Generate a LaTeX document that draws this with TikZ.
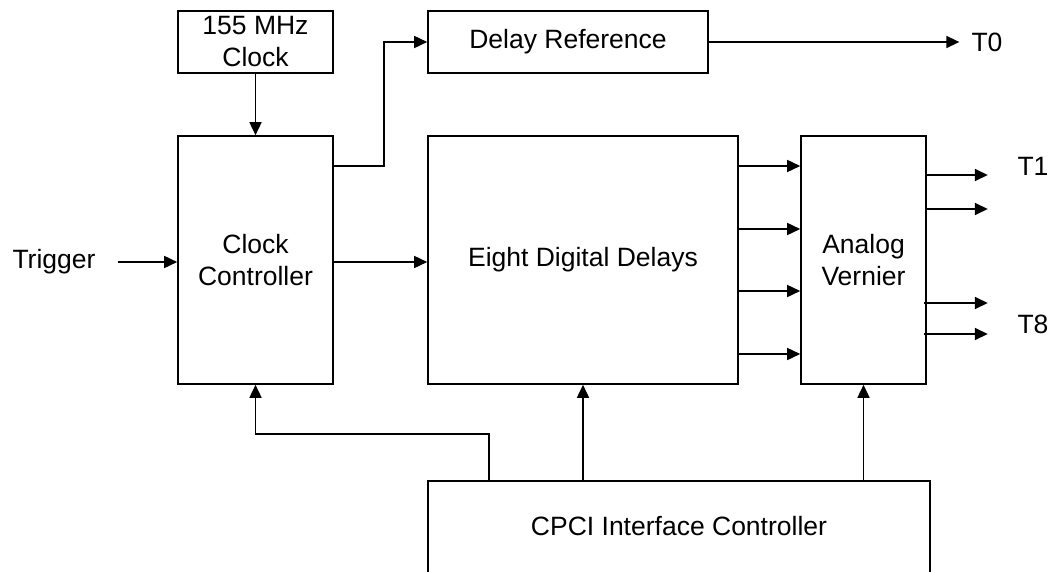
\documentclass[tikz,border=0pt]{standalone}
\usepackage{fontspec}
\setmainfont{Liberation Sans}
\usetikzlibrary{arrows.meta}
\begin{document}
\begin{tikzpicture}[x=1pt,y=-1pt,
  txt/.style={font=\fontsize{26.5}{32}\selectfont},
  box/.style={draw,line width=1.6pt,inner sep=0pt,align=center,txt},
  lbl/.style={inner sep=0pt,txt},
  arr/.style={line width=1.6pt,-{Triangle[length=13pt,width=12pt]}},
  ln/.style={line width=1.6pt}]
\useasboundingbox (0,0) rectangle (1051,572);
% blocks
\node[box,minimum width=155pt,minimum height=62pt] (clk) at (255.5,42) {155 MHz\\Clock};
\node[box,minimum width=155pt,minimum height=248pt] (cc) at (255.5,260) {Clock\\Controller};
\node[box,minimum width=280pt,minimum height=62pt] (dr) at (568,42) {Delay Reference};
\node[box,minimum width=310pt,minimum height=248pt] (edd) at (583,260) {Eight Digital Delays};
\node[box,minimum width=125pt,minimum height=248pt] (av) at (863.5,260) {Analog\\Vernier};
\node[box,minimum width=502pt,minimum height=200pt,anchor=north] (cpci) at (679,480) {};
\node[lbl] (cpcit) at (679,526) {CPCI Interface Controller};
% labels
\node[lbl] (trig) at (54,262) {Trigger};
\node[lbl] (t0) at (987,42) {T0};
\node[lbl] (t1) at (1033,166) {T1};
\node[lbl] (t8) at (1033,324) {T8};
% connectors
\draw[arr] (clk.south) -- (cc.north);
\draw[arr] ([xshift=22pt]trig.east) -- (cc.west |- trig.east);
\draw[arr] ([yshift=-2pt]cc.east) -- ([yshift=-2pt]edd.west);
\draw[arr] ([yshift=-31pt]cc.north east) -- ++(50,0) |- (dr.west);
\draw[arr] (dr.east) -- ([xshift=-12pt]t0.west);
\foreach \d in {94,31,-31,-94}
  \draw[arr] ([yshift=\d pt]edd.east) -- ([yshift=\d pt]av.west);
\draw[arr] ([yshift=85pt]av.east) -- ++(61,0);
\draw[arr] ([yshift=51pt]av.east) -- ++(61,0);
\draw[arr] ([yshift=-43pt,xshift=-3pt]av.east) -- ++(64,0);
\draw[arr] ([yshift=-74pt,xshift=-3pt]av.east) -- ++(64,0);
\draw[arr] ([xshift=62pt]cpci.north west) -- ++(0,-46) -| (cc.south);
\draw[arr] (edd.south |- cpci.north) -- (edd.south);
\draw[arr] (av.south |- cpci.north) -- (av.south);
\end{tikzpicture}
\end{document}
